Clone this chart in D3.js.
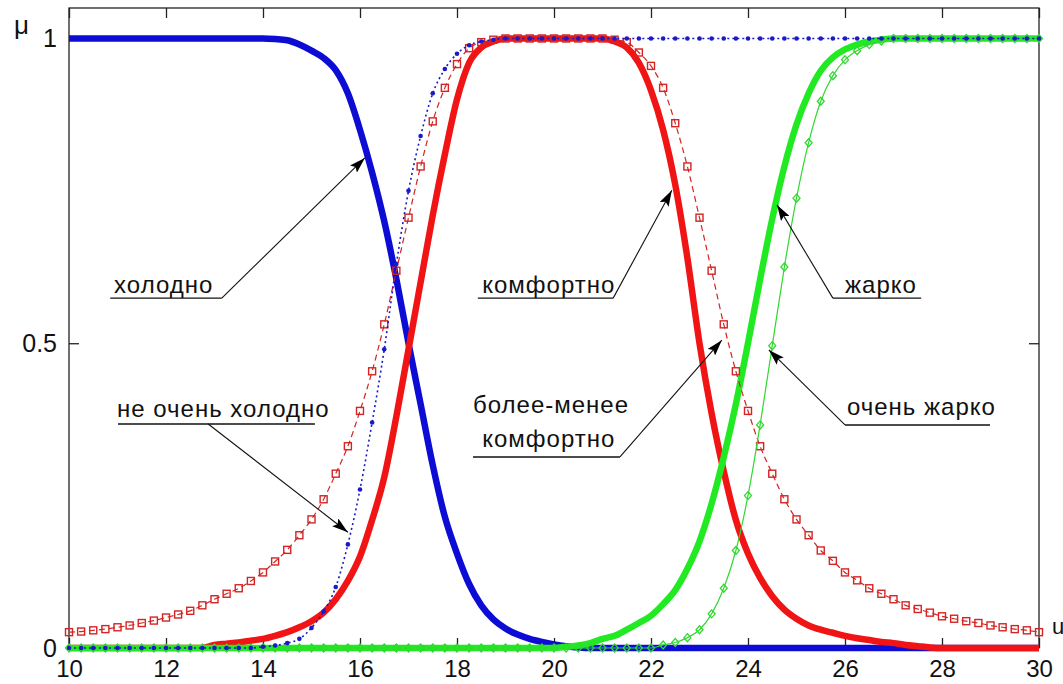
<!DOCTYPE html>
<html>
<head>
<meta charset="utf-8">
<script src="https://cdn.jsdelivr.net/npm/d3@7"></script>
<style>
  body { margin: 0; background: #fff; }
  svg text { font-family: "Liberation Sans", Arial, sans-serif; fill: #111; }
</style>
</head>
<body>
<div id="chart"></div>
<script>
// sample points of u (step 0.25)
var uValues = d3.range(10, 30.001, 0.25);
var xTicks = [10, 12, 14, 16, 18, 20, 22, 24, 26, 28, 30];
var yTicks = [0, 0.5, 1];

// холодно
var cold = [
  1, 1, 1, 1, 1, 1, 1, 1, 1, 1, 1, 1, 1, 1, 1, 1, 1,
  0.999, 0.997, 0.99, 0.98, 0.968, 0.948, 0.91, 0.85, 0.78, 0.70, 0.605, 0.50,
  0.40, 0.30, 0.215, 0.155, 0.105, 0.07, 0.047, 0.032, 0.022, 0.015, 0.01, 0.006,
  0.003, 0.001,
  0, 0, 0, 0, 0, 0, 0, 0, 0, 0, 0, 0, 0, 0, 0, 0, 0, 0, 0,
  0, 0, 0, 0, 0, 0, 0, 0, 0, 0, 0, 0, 0, 0, 0, 0, 0, 0, 0
];
// не очень холодно
var notVeryCold = [
  0, 0, 0, 0, 0, 0, 0, 0, 0, 0, 0, 0, 0, 0, 0, 0,
  0.002, 0.004, 0.008, 0.015, 0.033, 0.06, 0.10, 0.17, 0.26, 0.37, 0.49, 0.63,
  0.75, 0.84, 0.91, 0.95, 0.975, 0.989, 0.995, 0.998,
  1, 1, 1, 1, 1, 1, 1, 1, 1, 1, 1, 1, 1, 1, 1, 1, 1, 1, 1, 1, 1, 1, 1,
  1, 1, 1, 1, 1, 1, 1, 1, 1, 1, 1, 1, 1, 1, 1, 1, 1, 1, 1, 1, 1, 1
];
// комфортно
var comfort = [
  0, 0, 0, 0, 0, 0, 0, 0, 0, 0, 0, 0,
  0.005, 0.007, 0.009, 0.012, 0.015, 0.02, 0.026, 0.034, 0.044, 0.058, 0.08, 0.11,
  0.15, 0.21, 0.28, 0.38, 0.49, 0.60, 0.71, 0.81, 0.90, 0.96, 0.985, 0.995,
  1, 1, 1, 1, 1, 1, 1, 1, 1,
  0.995, 0.985, 0.96, 0.915, 0.85, 0.76, 0.64, 0.50, 0.385, 0.29, 0.21, 0.155,
  0.115, 0.085, 0.063, 0.048, 0.037, 0.03, 0.025, 0.02, 0.016, 0.013, 0.01, 0.008,
  0.005, 0.003, 0.001,
  0, 0, 0, 0, 0, 0, 0, 0, 0
];
// более-менее комфортно
var moreLessComfort = [
  0.026, 0.027, 0.029, 0.031, 0.034, 0.037, 0.041, 0.045, 0.05, 0.055, 0.061, 0.07,
  0.08, 0.089, 0.098, 0.11, 0.124, 0.142, 0.161, 0.185, 0.211, 0.244, 0.286, 0.331,
  0.389, 0.454, 0.531, 0.619, 0.706, 0.79, 0.864, 0.919, 0.958, 0.984, 0.994, 0.998,
  1, 1, 1, 1, 1, 1, 1, 1, 1,
  0.998, 0.994, 0.977, 0.955, 0.919, 0.861, 0.79, 0.706, 0.619, 0.531, 0.454, 0.389,
  0.331, 0.286, 0.244, 0.211, 0.185, 0.16, 0.143, 0.124, 0.111, 0.098, 0.089, 0.08,
  0.07, 0.064, 0.058, 0.052, 0.048, 0.044, 0.041, 0.037, 0.034, 0.031, 0.029, 0.026
];
// жарко
var hot = [
  0, 0, 0, 0, 0, 0, 0, 0, 0, 0, 0, 0, 0, 0, 0, 0, 0, 0, 0, 0,
  0, 0, 0, 0, 0, 0, 0, 0, 0, 0, 0, 0, 0, 0, 0, 0, 0, 0, 0, 0, 0,
  0.002, 0.004, 0.008, 0.015, 0.02, 0.03, 0.041, 0.053, 0.072, 0.095, 0.13, 0.175,
  0.237, 0.313, 0.40, 0.50, 0.605, 0.704, 0.79, 0.859, 0.91, 0.947, 0.969, 0.982,
  0.99, 0.995, 0.998,
  1, 1, 1, 1, 1, 1, 1, 1, 1, 1, 1, 1, 1
];
// очень жарко
var veryHot = [
  0, 0, 0, 0, 0, 0, 0, 0, 0, 0, 0, 0, 0, 0, 0, 0, 0, 0, 0, 0, 0, 0, 0, 0, 0,
  0, 0, 0, 0, 0, 0, 0, 0, 0, 0, 0, 0, 0, 0, 0, 0, 0, 0, 0, 0, 0, 0, 0, 0,
  0.005, 0.009, 0.017, 0.03, 0.056, 0.098, 0.16, 0.25, 0.366, 0.496, 0.625, 0.738,
  0.829, 0.897, 0.939, 0.965, 0.98, 0.99, 0.996,
  1, 1, 1, 1, 1, 1, 1, 1, 1, 1, 1, 1, 1
];

var noteText = [
  ["холодно"],
  ["не очень холодно"],
  ["комфортно"],
  ["более-менее", "комфортно"],
  ["жарко"],
  ["очень жарко"]
];

var width = 1063, height = 684;

var svg = d3.select("#chart")
  .append("svg")
    .attr("width", width)
    .attr("height", height);

var x = d3.scaleLinear().domain([10, 30]).range([69, 1039]);
var y = d3.scaleLinear().domain([0, 1.05]).range([648, 8]);

// arrow head for the leaders
svg.append("defs").append("marker")
    .attr("id", "arrow")
    .attr("viewBox", "0 0 16 10")
    .attr("refX", 16).attr("refY", 5)
    .attr("markerWidth", 16).attr("markerHeight", 10)
    .attr("markerUnits", "userSpaceOnUse")
    .attr("orient", "auto")
  .append("path")
    .attr("d", "M0,0L16,5L0,10L3,5Z")
    .attr("fill", "#000");

// axes box
svg.append("rect")
  .attr("x", x(10))
  .attr("y", y(1.05))
  .attr("width", x(30) - x(10))
  .attr("height", y(0) - y(1.05))
  .attr("fill", "none")
  .attr("stroke", "#222")
  .attr("stroke-width", 1.3);

function styleAxis(g) {
  g.select(".domain").remove();
  g.selectAll(".tick line").attr("stroke", "#222").attr("stroke-width", 1.3);
  g.selectAll("text").style("font-size", "25px").attr("fill", "#111");
}

svg.append("g")
  .attr("transform", "translate(0," + y(0) + ")")
  .call(d3.axisBottom(x).tickValues(xTicks).tickSize(-10).tickPadding(12).tickFormat(d3.format("d")))
  .call(styleAxis)
  .call(function(g) { g.selectAll("text").style("font-size", "24px"); });
svg.append("g")
  .attr("transform", "translate(0," + y(1.05) + ")")
  .call(d3.axisTop(x).tickValues(xTicks).tickSize(-10).tickFormat(""))
  .call(styleAxis);
svg.append("g")
  .attr("transform", "translate(" + x(10) + ",0)")
  .call(d3.axisLeft(y).tickValues(yTicks).tickSize(-10).tickPadding(12).tickFormat(d3.format("")))
  .call(styleAxis);
svg.append("g")
  .attr("transform", "translate(" + x(30) + ",0)")
  .call(d3.axisRight(y).tickValues(yTicks).tickSize(-10).tickFormat(""))
  .call(styleAxis);

// axis names
svg.append("text").attr("x", 14).attr("y", 34).style("font-size", "26px").text("μ");
svg.append("text").attr("x", 1052).attr("y", 634).style("font-size", "22px").text("u");

var line = d3.line()
  .x(function(d, i) { return x(uValues[i]); })
  .y(function(d) { return y(d); })
  .curve(d3.curveMonotoneX);

function drawLine(values, color, w, dash) {
  svg.append("path")
    .datum(values)
    .attr("d", line)
    .attr("fill", "none")
    .attr("stroke", color)
    .attr("stroke-width", w)
    .attr("stroke-dasharray", dash || null)
    .attr("stroke-linejoin", "round");
}

// thick curves
drawLine(cold, "#0c0cd4", 6.5);
drawLine(comfort, "#f01414", 6.5);
drawLine(hot, "#22ea22", 6.5);

// более-менее комфортно: dashed with squares
drawLine(moreLessComfort, "#d42424", 1.2, "6,4");
svg.append("g").selectAll("rect")
  .data(moreLessComfort)
  .enter()
  .append("rect")
    .attr("x", function(d, i) { return x(uValues[i]) - 3.5; })
    .attr("y", function(d) { return y(d) - 3.5; })
    .attr("width", 7).attr("height", 7)
    .attr("fill", "none")
    .attr("stroke", "#d42424")
    .attr("stroke-width", 1.4);

// очень жарко: thin with diamonds
drawLine(veryHot, "#30d830", 1.2);
svg.append("g").selectAll("path")
  .data(veryHot)
  .enter()
  .append("path")
    .attr("transform", function(d, i) { return "translate(" + x(uValues[i]) + "," + y(d) + ")"; })
    .attr("d", "M0,-4L3.5,0L0,4L-3.5,0Z")
    .attr("fill", "none")
    .attr("stroke", "#30d830")
    .attr("stroke-width", 1.3);

// не очень холодно: dotted with dots
drawLine(notVeryCold, "#1a1ac8", 1.6, "2,3");
svg.append("g").selectAll("circle")
  .data(notVeryCold)
  .enter()
  .append("circle")
    .attr("cx", function(d, i) { return x(uValues[i]); })
    .attr("cy", function(d) { return y(d); })
    .attr("r", 2.3)
    .attr("fill", "#1a1ac8");

// annotations (positions in data units)
var notes = [
  { tx: [10.93], ty: [0.582], ul: [10.85, 13.15, 0.574], from: 13.15, tip: [16.10, 0.804] },
  { tx: [10.99], ty: [0.379], ul: [11.01, 15.07, 0.3675], from: 12.87, tip: [15.75, 0.19] },
  { tx: [18.52], ty: [0.582], ul: [18.43, 21.22, 0.574], from: 21.22, tip: [22.43, 0.751] },
  { tx: [18.33, 18.52], ty: [0.3856, 0.33], ul: [18.33, 21.36, 0.3134], from: 21.36, tip: [23.46, 0.505] },
  { tx: [26.0], ty: [0.582], ul: [25.75, 27.57, 0.574], from: 25.75, tip: [24.6, 0.727] },
  { tx: [26.04], ty: [0.3823], ul: [26.0, 28.99, 0.3659], from: 26.0, tip: [24.43, 0.489] }
];

notes.forEach(function(n, k) {
  var g = svg.append("g");
  noteText[k].forEach(function(t, j) {
    g.append("text")
      .attr("x", x(n.tx[j]))
      .attr("y", y(n.ty[j]))
      .style("font-size", "24px")
      .style("letter-spacing", "1px")
      .text(t);
  });
  g.append("line")
    .attr("x1", x(n.ul[0])).attr("x2", x(n.ul[1]))
    .attr("y1", y(n.ul[2])).attr("y2", y(n.ul[2]))
    .attr("stroke", "#111").attr("stroke-width", 1.3);
  g.append("line")
    .attr("x1", x(n.from)).attr("y1", y(n.ul[2]))
    .attr("x2", x(n.tip[0])).attr("y2", y(n.tip[1]))
    .attr("stroke", "#111").attr("stroke-width", 1.1)
    .attr("marker-end", "url(#arrow)");
});
</script>
</body>
</html>
